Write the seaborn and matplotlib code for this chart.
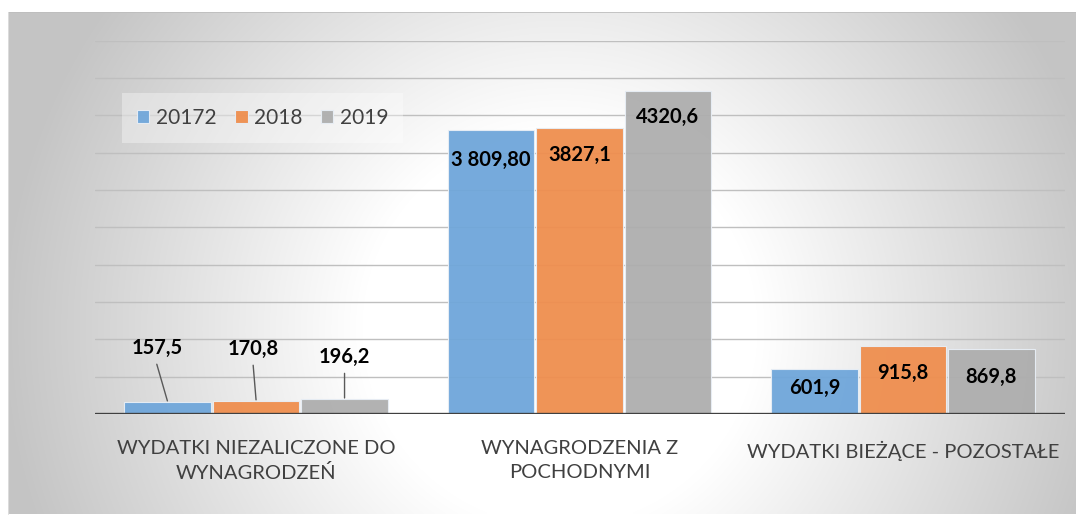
import numpy as np
import pandas as pd
import matplotlib
matplotlib.use("Agg")
import matplotlib.pyplot as plt
import seaborn as sns

# ---- data ----
categories = ["WYDATKI NIEZALICZONE DO\nWYNAGRODZEŃ", "WYNAGRODZENIA Z\nPOCHODNYMI", "WYDATKI BIEŻĄCE - POZOSTAŁE"]
series = ["20172", "2018", "2019"]
values_20172 = [157.5, 3809.8, 601.9]
values_2018 = [170.8, 3827.1, 915.8]
values_2019 = [196.2, 4320.6, 869.8]
labels_20172 = ["157,5", "3 809,80", "601,9"]
labels_2018 = ["170,8", "3827,1", "915,8"]
labels_2019 = ["196,2", "4320,6", "869,8"]

colors = ["#6FA6DA", "#EF8E4E", "#AEAEAE"]

rows = []
for s, vals in zip(series, [values_20172, values_2018, values_2019]):
    for c, v in zip(categories, vals):
        rows.append({"cat": c, "year": s, "val": v})
df = pd.DataFrame(rows)

sns.set_theme(style="white")
plt.rcParams["font.family"] = ["Lato", "DejaVu Sans"]

W, H = 1076, 515
fig = plt.figure(figsize=(W / 100, H / 100), dpi=100)
fig.patch.set_facecolor("white")

# background gradient panel
bx0, by0 = 8, 12
bg = fig.add_axes([bx0 / W, 0, 1 - bx0 / W, 1 - by0 / H])
bw, bh = W - bx0, H - by0
xx, yy = np.meshgrid(np.arange(bw) + bx0, np.arange(bh) + by0)
t = np.sqrt(((xx - 560) / 600.0) ** 2 + ((yy - 330) / 600.0) ** 2)
v = 1 - 0.23 * np.clip((t - 0.33) / 0.6, 0, 1)
img = np.dstack([v, v, v])
bg.imshow(img, aspect="auto", interpolation="bilinear")
bg.set_axis_off()
bg.plot([0, bw], [0, 0], color="#bdbdbd", lw=1.2)
bg.plot([0, 0], [0, bh], color="#e0e0e0", lw=1.2)
bg.set_xlim(0, bw)
bg.set_ylim(bh, 0)

ax = fig.add_axes([94.5 / W, 1 - 414 / H, 970 / W, (414 - 40.7) / H])
ax.set_facecolor("none")

sns.barplot(data=df, x="cat", y="val", hue="year", hue_order=series, order=categories,
            palette=colors, saturation=1, width=0.82, gap=0.02, ax=ax, alpha=0.95,
            edgecolor="#e8eef5", linewidth=0.8, zorder=3, legend=True)

ax.set_ylim(0, 5000)
ax.set_xlim(-0.5, 2.5)
ax.set_yticks(np.arange(500, 5001, 500))
ax.yaxis.grid(True, color="#bfbfbf", lw=1.0, zorder=1)
ax.set_axisbelow(True)
ax.tick_params(axis="y", left=False, labelleft=False)
ax.tick_params(axis="x", bottom=False, pad=13, labelsize=14.5, labelcolor="#404040")
for lab in ax.get_xticklabels():
    lab.set_linespacing(1.45)
ax.set_xlabel("")
ax.set_ylabel("")
for sp in ax.spines.values():
    sp.set_visible(False)
ax.axhline(0, color="#404040", lw=2.4, zorder=5)

# data labels
px = 72 / 100.0  # points per pixel
label_sets = [labels_20172, labels_2018, labels_2019]
# offsets (pixels) of label centre relative to bar top centre
offsets = [
    [(-11, 54), (0, -30), (0, -19)],
    [(-3, 52), (0, -27), (0, -27)],
    [(0, 42), (0, -26), (0, -28)],
]
for si, cont in enumerate(ax.containers):
    for ci, patch in enumerate(cont.patches):
        xc = patch.get_x() + patch.get_width() / 2
        h = patch.get_height()
        dx, dy = offsets[si][ci]
        ax.annotate(label_sets[si][ci], xy=(xc, h), xytext=(dx * px, dy * px),
                    textcoords="offset points", ha="center", va="center",
                    fontsize=14.5, fontweight="bold", color="black", zorder=6)
        if ci == 0:
            # leader line from label bottom to bar top
            ax.annotate("", xy=(xc, h), xytext=(dx * px, (dy - 16) * px),
                        textcoords="offset points",
                        arrowprops=dict(arrowstyle="-", color="#595959", lw=1.0,
                                        shrinkA=0, shrinkB=1), zorder=6)

leg = ax.legend(loc="center", bbox_to_anchor=(262.5 / W, 1 - 118 / H),
                bbox_transform=fig.transFigure, ncol=3, frameon=True,
                fontsize=15, handlelength=0.6, handleheight=0.6,
                handletextpad=0.3, columnspacing=0.9, borderpad=0.7)
leg.get_frame().set_facecolor("white")
leg.get_frame().set_alpha(0.35)
leg.get_frame().set_edgecolor("none")
leg.get_frame().set_boxstyle("square", pad=0)
for txt in leg.get_texts():
    txt.set_color("#404040")

fig.savefig("out.png", dpi=100)
